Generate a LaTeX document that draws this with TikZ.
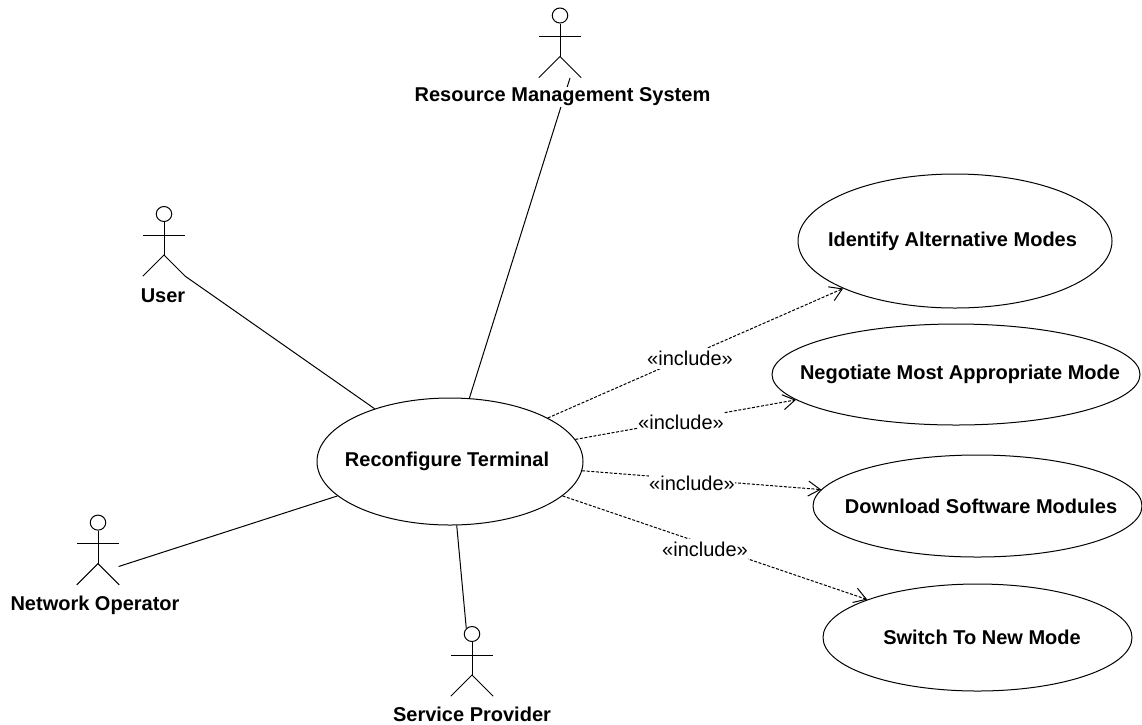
\documentclass[tikz,border=0pt]{standalone}
\usepackage{fontspec}
\setmainfont{Liberation Sans}
\usetikzlibrary{shapes.geometric,arrows.meta}
\tikzset{
  usecase/.style={draw,ellipse,inner sep=0pt,line width=1pt,font=\fontsize{20}{24}\selectfont\bfseries},
  head/.style={draw,ellipse,inner sep=0pt,minimum width=15.5pt,minimum height=15pt,line width=1pt},
  actorbox/.style={inner sep=0pt,minimum width=42pt,minimum height=42pt},
  limb/.style={line width=1pt},
  actorlabel/.style={inner sep=1pt,fill=white,font=\fontsize{20}{24}\selectfont\bfseries},
  assoc/.style={line width=1pt},
  incl/.style={line width=1pt,dash pattern=on 3pt off 1.6pt,-{Straight Barb[length=12pt,width=15pt,line width=1pt]}},
  incllabel/.style={inner xsep=0pt,inner ysep=0pt,minimum height=21pt,fill=white,font=\fontsize{20}{24}\selectfont}
}
\newcommand{\stick}[3]{%
  \node[head] (#1head) at (#2,#3) {};
  \node[actorbox] (#1) at (#2,#3+41) {};
  \draw[limb] (#1head.south) -- (#1.center);
  \draw[limb] ([yshift=20pt]#1.west) -- ([yshift=20pt]#1.east);
  \draw[limb] (#1.south west) -- (#1.center) -- (#1.south east);
}
% centred text of no width, moved by #1 to the right and #2 down
\newcommand{\uctext}[3]{\makebox[0pt]{\hspace*{#1}\raisebox{-#2}{#3}}}
\begin{document}
\begin{tikzpicture}[x=1pt,y=-1pt]
\useasboundingbox (0,0) rectangle (1142,724);
\stick{rms}{560}{15.5}
\stick{user}{164}{214}
\stick{netop}{98}{522.6}
\stick{svc}{472}{634}
\coordinate (rmsport) at (570,78);
\coordinate (netopport) at (118.6,566.5);

\node[usecase,minimum width=266pt,minimum height=127pt] (rt) at (450,461.5) {\uctext{-6pt}{0pt}{Reconfigure Terminal}};
\node[usecase,minimum width=314pt,minimum height=134pt] (iam) at (955,241) {\uctext{-5pt}{2pt}{Identify Alternative Modes}};
\node[usecase,minimum width=368pt,minimum height=101pt] (nm) at (956,374.5) {\uctext{8pt}{0pt}{Negotiate Most Appropriate Mode}};
\node[usecase,minimum width=329pt,minimum height=102pt] (dl) at (977.5,506) {\uctext{7pt}{1pt}{Download Software Modules}};
\node[usecase,minimum width=309pt,minimum height=107pt] (sw) at (977.5,637.5) {\uctext{9pt}{1pt}{Switch To New Mode}};

\draw[assoc] (rt.73.3) -- (rmsport);
\draw[assoc] (rt.145.7) -- (user.south east);
\draw[assoc] (rt.197.1) -- (netopport);
\draw[assoc] (rt.276.3) -- (svchead.135);

\draw[incl] (rt.24) -- (iam.203.8);
\draw[incl] (rt.10.1) -- (nm.189.8);
\draw[incl] (rt.-4.9) -- (dl.174.9);
\draw[incl] (rt.-17.9) -- (sw.161.7);

\node[incllabel] (l1) at (690,358) {«include»};
\node[incllabel] (l2) at (681,422) {«include»};
\node[incllabel] (l3) at (692,483) {«include»};
\node[incllabel] (l4) at (705,549) {«include»};

\node[actorlabel] (rmstext) at (562.5,97) {Resource Management System};
\node[actorlabel] (usertext) at (163,296) {User};
\node[actorlabel] (netoptext) at (95,605) {Network Operator};
\node[actorlabel] (svctext) at (472,714) {Service Provider};
\end{tikzpicture}
\end{document}
